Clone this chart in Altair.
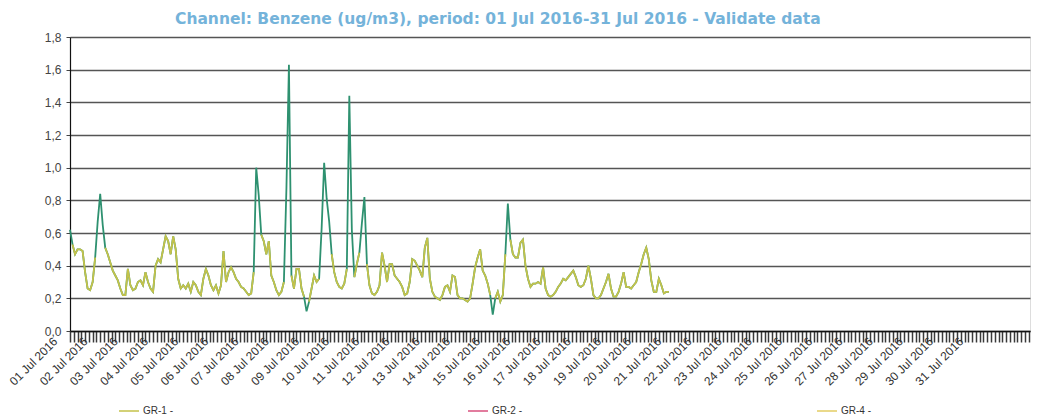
import altair as alt
import pandas as pd

# Benzene (ug/m3), 2-hourly readings from 01 Jul 2016 00:00
benzene = [
    0.62, 0.53, 0.47, 0.50, 0.50, 0.49, 0.36, 0.26, 0.25, 0.30,
    0.45, 0.67, 0.84, 0.65, 0.51, 0.47, 0.42, 0.37, 0.34, 0.31,
    0.26, 0.22, 0.22, 0.38, 0.28, 0.25, 0.26, 0.30, 0.31, 0.28,
    0.36, 0.30, 0.26, 0.24, 0.40, 0.44, 0.42, 0.50, 0.58, 0.55,
    0.47, 0.58, 0.50, 0.32, 0.26, 0.28, 0.26, 0.29, 0.24, 0.30,
    0.28, 0.24, 0.22, 0.32, 0.38, 0.34, 0.28, 0.25, 0.28,
    0.23, 0.28, 0.49, 0.30, 0.36, 0.39, 0.36, 0.32, 0.30, 0.27,
    0.26, 0.24, 0.22, 0.23, 0.36, 1.00, 0.83, 0.59, 0.55, 0.47,
    0.55, 0.34, 0.30, 0.25, 0.22, 0.24, 0.30, 0.87, 1.63, 0.34,
    0.26, 0.38, 0.38, 0.26, 0.21, 0.12, 0.18, 0.26, 0.34, 0.30,
    0.32, 0.63, 1.03, 0.81, 0.67, 0.47, 0.36, 0.30, 0.27, 0.26,
    0.29, 0.38, 1.44, 0.62, 0.33, 0.41, 0.48,
    0.66, 0.82, 0.41, 0.28, 0.23, 0.22, 0.24, 0.28, 0.48, 0.40,
    0.30, 0.41, 0.41, 0.34, 0.32, 0.30, 0.27, 0.22, 0.23, 0.30,
    0.44, 0.43, 0.40, 0.37, 0.33, 0.51, 0.57, 0.32, 0.24, 0.21,
    0.20, 0.19, 0.22, 0.27, 0.28, 0.24, 0.34, 0.33, 0.22, 0.20,
    0.20, 0.19, 0.18, 0.20, 0.29, 0.39, 0.45, 0.50, 0.37, 0.34,
    0.29, 0.22, 0.10, 0.20, 0.24,
    0.18, 0.22, 0.47, 0.78, 0.56, 0.47, 0.45, 0.45, 0.54, 0.56,
    0.40, 0.32, 0.27, 0.29, 0.29, 0.30, 0.29, 0.39, 0.26, 0.22,
    0.21, 0.22, 0.24, 0.27, 0.29, 0.32, 0.31, 0.33, 0.35, 0.37,
    0.33, 0.28, 0.27, 0.28, 0.32, 0.40, 0.32, 0.22, 0.20, 0.20,
    0.22, 0.26, 0.30, 0.35, 0.26, 0.21, 0.21, 0.24, 0.29, 0.36,
    0.27, 0.27, 0.26, 0.28, 0.30, 0.36, 0.41, 0.47, 0.51, 0.44,
    0.31, 0.24, 0.24, 0.32, 0.28, 0.23, 0.24, 0.24,
]
step_hours = 2
series_names = ["GR-1 -", "GR-2 -", "GR-4 -"]
series_colors = ["#c4c24a", "#d9507e", "#e3cc63"]
y_ticks = [0.0, 0.2, 0.4, 0.6, 0.8, 1.0, 1.2, 1.4, 1.6, 1.8]
title_text = "Channel: Benzene (ug/m3), period: 01 Jul 2016-31 Jul 2016 - Validate data"

start = pd.Timestamp("2016-07-01T00:00:00")
times = [(start + pd.Timedelta(hours=step_hours * i)).strftime("%Y-%m-%dT%H:%M:%SZ")
         for i in range(len(benzene))]
df = pd.DataFrame({"t": times, "v": benzene})

dom_start = pd.Timestamp("2016-07-01T00:00:00")
dom_end = pd.Timestamp("2016-08-01T19:00:00")
label_cut = int(pd.Timestamp("2016-08-01T00:00:00").timestamp() * 1000)
tick_vals = [int(ts.timestamp() * 1000) for ts in pd.date_range(dom_start, dom_end, freq="3h")]

x_scale = alt.Scale(type="utc", domain=[int(dom_start.timestamp() * 1000), int(dom_end.timestamp() * 1000)])
x_axis = alt.Axis(
    values=tick_vals,
    labelExpr=f"(utchours(datum.value) == 0 && datum.value < {label_cut}) ? utcFormat(datum.value, '%d %b %Y') : ''",
    labelAngle=-45, labelAlign="right", labelBaseline="middle",
    labelOverlap=False, labelFontSize=12, labelFont="Liberation Sans", labelColor="#333",
    labelPadding=-3, labelOffset=-15, labelBound=False, labelFlush=False,
    tickSize=11, tickColor="#3a3a3a", tickWidth=1.5,
    domainColor="#111", domainWidth=1.5, grid=False, title=None,
)
y_scale = alt.Scale(domain=[0, 1.8])
y_axis = alt.Axis(
    values=y_ticks, labelExpr="replace(format(datum.value, '.1f'), '.', ',')",
    labelOverlap=False, labelFlush=False,
    labelFontSize=12, labelFont="Liberation Sans", labelColor="#444", labelPadding=5,
    tickSize=4, tickColor="#444", domainColor="#111", domainWidth=1.2,
    grid=True, gridColor="#555555", gridWidth=1.3, title=None,
)

base = alt.Chart(df)

green = base.mark_line(color="#2e9170", strokeWidth=1.8).encode(
    x=alt.X("t:T", scale=x_scale, axis=x_axis),
    y=alt.Y("v:Q", scale=y_scale, axis=y_axis),
)

yellow = base.transform_calculate(
    vy="(datum.v > 0.6 || datum.v < 0.15) ? null : datum.v",
    series="'GR-1 -'",
).mark_line(strokeWidth=1.8, invalid="break-paths-show-domains").encode(
    x=alt.X("t:T", scale=x_scale, axis=x_axis),
    y=alt.Y("vy:Q", scale=y_scale, axis=y_axis),
    color=alt.Color(
        "series:N",
        scale=alt.Scale(domain=series_names, range=series_colors),
        legend=alt.Legend(
            orient="none", legendX=48, legendY=363, direction="horizontal",
            title=None, symbolType="stroke", symbolSize=400, symbolStrokeWidth=1.5,
            columnPadding=292, labelFontSize=10, labelFont="Liberation Sans",
            labelColor="#333", labelOffset=3,
        ),
    ),
)

chart = alt.layer(green, yellow).properties(
    width=960, height=294,
    title=alt.TitleParams(
        title_text, anchor="start", frame="group", dx=105, offset=4,
        font="DejaVu Sans", fontSize=15.5, fontWeight="bold", color="#74b3da",
    ),
    autosize=alt.AutoSizeParams(type="none"),
    padding={"left": 62, "top": 29, "right": 2, "bottom": 86},
).configure_view(stroke="transparent").configure(background="white")

chart.save("out.html", embed_options={"renderer": "svg", "actions": False})
